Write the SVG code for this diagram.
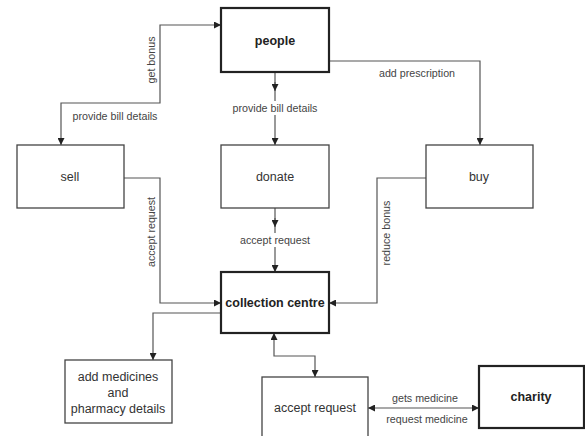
<svg xmlns="http://www.w3.org/2000/svg" width="585" height="436" viewBox="0 0 585 436">
<style>
.box{fill:#fff;stroke:#444;stroke-width:1.3}
.bold{fill:#fff;stroke:#222;stroke-width:2.2}
.nt{font-family:"Liberation Sans",Arial,sans-serif;font-size:12.5px;fill:#333;text-anchor:middle;dominant-baseline:central}
.nb{font-weight:bold;fill:#222}
.lbl{font-family:"Liberation Sans",Arial,sans-serif;font-size:10.7px;fill:#444;text-anchor:middle;dominant-baseline:central}
.ln{fill:none;stroke:#555;stroke-width:1.2}
.bg{fill:#fff}
</style>
<defs>
<marker id="ah" viewBox="0 0 8 8" refX="8" refY="4" markerWidth="7" markerHeight="7" markerUnits="userSpaceOnUse" orient="auto">
<path d="M0,0 L8,4 L0,8 z" fill="#222"/>
</marker>
<marker id="as" viewBox="0 0 8 8" refX="0" refY="4" markerWidth="7" markerHeight="7" markerUnits="userSpaceOnUse" orient="auto">
<path d="M8,0 L0,4 L8,8 z" fill="#222"/>
</marker>
</defs>
<g id="connectors">
<path class="ln" d="M61,145 V103 H160 V25 H221" marker-start="url(#as)" marker-end="url(#ah)"/>
<path class="ln" d="M275,72 V145" marker-end="url(#ah)"/>
<path class="ln" d="M275,82 V91" marker-end="url(#ah)"/>
<path class="ln" d="M275,208 V272" marker-end="url(#ah)"/>
<path class="ln" d="M275,218 V227" marker-end="url(#ah)"/>
<path class="ln" d="M329,61 H480 V145" marker-end="url(#ah)"/>
<path class="ln" d="M124,178 H160 V303 H221" marker-end="url(#ah)"/>
<path class="ln" d="M426,178 H377 V303 H329" marker-end="url(#ah)"/>
<path class="ln" d="M221,313 H153 V360" marker-end="url(#ah)"/>
<path class="ln" d="M274,333 V356 H315 V377" marker-start="url(#as)" marker-end="url(#ah)"/>
<path class="ln" d="M368,408 H479" marker-start="url(#as)" marker-end="url(#ah)"/>
<text class="lbl" transform="translate(151,60) rotate(-90)">get bonus</text>
<text class="lbl" x="115" y="116">provide bill details</text>
<rect class="bg" x="230" y="101" width="90" height="14"/>
<text class="lbl" x="275" y="108">provide bill details</text>
<text class="lbl" x="417" y="73">add prescription</text>
<rect class="bg" x="238" y="233" width="74" height="14"/>
<text class="lbl" x="275" y="240">accept request</text>
<text class="lbl" transform="translate(151,232) rotate(-90)">accept request</text>
<text class="lbl" transform="translate(386,233) rotate(-90)">reduce bonus</text>
<text class="lbl" x="425" y="398">gets medicine</text>
<text class="lbl" x="427" y="419">request medicine</text>
</g>
<g id="people">
<rect class="bold" x="221" y="8" width="108" height="64"/>
<text class="nt nb" x="275" y="41">people</text>
</g>
<g id="sell">
<rect class="box" x="17" y="145" width="107" height="63"/>
<text class="nt" x="70" y="177">sell</text>
</g>
<g id="donate">
<rect class="box" x="221" y="145" width="108" height="63"/>
<text class="nt" x="275" y="177">donate</text>
</g>
<g id="buy">
<rect class="box" x="426" y="145" width="107" height="63"/>
<text class="nt" x="479" y="177">buy</text>
</g>
<g id="collection-centre">
<rect class="bold" x="221" y="272" width="108" height="61"/>
<text class="nt nb" x="275" y="303">collection centre</text>
</g>
<g id="add-medicines">
<rect class="box" x="65" y="360" width="107" height="63"/>
<text class="nt" x="118" y="377">add medicines</text>
<text class="nt" x="118" y="393">and</text>
<text class="nt" x="118" y="409">pharmacy details</text>
</g>
<g id="accept-request">
<rect class="box" x="262" y="377" width="106" height="70"/>
<text class="nt" x="315" y="408">accept request</text>
</g>
<g id="charity">
<rect class="bold" x="479" y="366" width="105" height="62"/>
<text class="nt nb" x="531" y="397">charity</text>
</g>
</svg>
